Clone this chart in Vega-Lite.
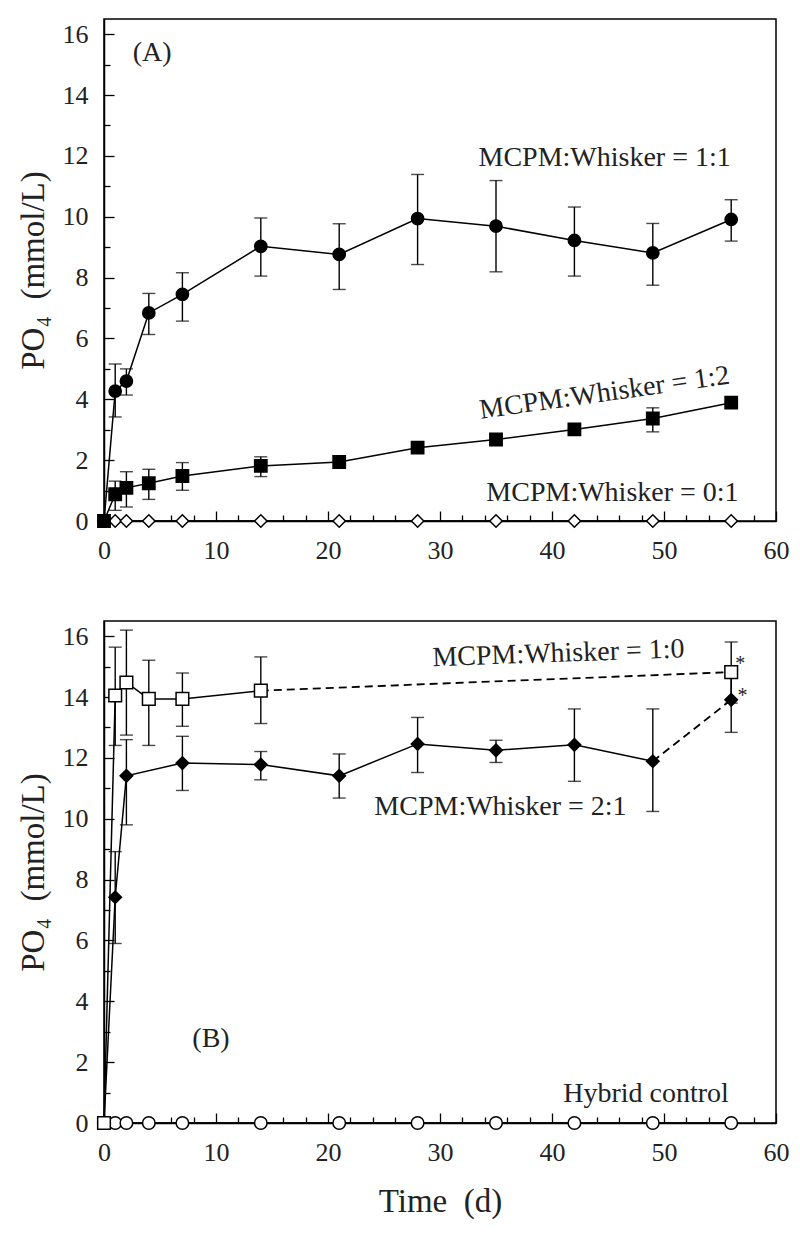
{
  "$schema": "https://vega.github.io/schema/vega-lite/v6.json",
  "padding": {"left": 16, "top": 18, "right": 5, "bottom": 5},
  "config": {
    "font": "Liberation Serif",
    "text": {"font": "Liberation Serif"},
    "view": {"stroke": "black", "strokeWidth": 1.5},
    "axis": {
      "grid": false, "domainColor": "black", "domainWidth": 1.5,
      "tickColor": "black", "tickWidth": 1.3,
      "labelFont": "Liberation Serif", "labelFontSize": 26, "labelColor": "#222",
      "labelFlush": false, "labelOverlap": false,
      "titleFont": "Liberation Serif", "titleFontSize": 33, "titleFontWeight": "normal", "titleColor": "#222"
    },
    "concat": {"spacing": 56}
  },
  "datasets": {
    "a": [
      {"series": "0:1", "t": 0, "v": 0}, {"series": "0:1", "t": 1, "v": 0}, {"series": "0:1", "t": 2, "v": 0},
      {"series": "0:1", "t": 4, "v": 0}, {"series": "0:1", "t": 7, "v": 0}, {"series": "0:1", "t": 14, "v": 0},
      {"series": "0:1", "t": 21, "v": 0}, {"series": "0:1", "t": 28, "v": 0}, {"series": "0:1", "t": 35, "v": 0},
      {"series": "0:1", "t": 42, "v": 0}, {"series": "0:1", "t": 49, "v": 0}, {"series": "0:1", "t": 56, "v": 0},
      {"series": "1:1", "t": 0, "v": 0},
      {"series": "1:1", "t": 1, "v": 4.27, "lo": 3.42, "hi": 5.16},
      {"series": "1:1", "t": 2, "v": 4.6, "lo": 4.14, "hi": 5.0},
      {"series": "1:1", "t": 4, "v": 6.84, "lo": 6.13, "hi": 7.48},
      {"series": "1:1", "t": 7, "v": 7.45, "lo": 6.57, "hi": 8.16},
      {"series": "1:1", "t": 14, "v": 9.03, "lo": 8.05, "hi": 9.96},
      {"series": "1:1", "t": 21, "v": 8.76, "lo": 7.61, "hi": 9.77},
      {"series": "1:1", "t": 28, "v": 9.94, "lo": 8.43, "hi": 11.39},
      {"series": "1:1", "t": 35, "v": 9.69, "lo": 8.19, "hi": 11.19},
      {"series": "1:1", "t": 42, "v": 9.22, "lo": 8.05, "hi": 10.32},
      {"series": "1:1", "t": 49, "v": 8.81, "lo": 7.75, "hi": 9.78},
      {"series": "1:1", "t": 56, "v": 9.91, "lo": 9.2, "hi": 10.56},
      {"series": "1:2", "t": 0, "v": 0},
      {"series": "1:2", "t": 1, "v": 0.88, "lo": 0.35, "hi": 1.31},
      {"series": "1:2", "t": 2, "v": 1.09, "lo": 0.46, "hi": 1.62},
      {"series": "1:2", "t": 4, "v": 1.24, "lo": 0.71, "hi": 1.7},
      {"series": "1:2", "t": 7, "v": 1.48, "lo": 1.01, "hi": 1.92},
      {"series": "1:2", "t": 14, "v": 1.81, "lo": 1.46, "hi": 2.11},
      {"series": "1:2", "t": 21, "v": 1.94},
      {"series": "1:2", "t": 28, "v": 2.41},
      {"series": "1:2", "t": 35, "v": 2.68},
      {"series": "1:2", "t": 42, "v": 3.01},
      {"series": "1:2", "t": 49, "v": 3.37, "lo": 2.93, "hi": 3.72},
      {"series": "1:2", "t": 56, "v": 3.89}
    ],
    "b": [
      {"series": "hybrid", "t": 0, "v": 0}, {"series": "hybrid", "t": 1, "v": 0}, {"series": "hybrid", "t": 2, "v": 0},
      {"series": "hybrid", "t": 4, "v": 0}, {"series": "hybrid", "t": 7, "v": 0}, {"series": "hybrid", "t": 14, "v": 0},
      {"series": "hybrid", "t": 21, "v": 0}, {"series": "hybrid", "t": 28, "v": 0}, {"series": "hybrid", "t": 35, "v": 0},
      {"series": "hybrid", "t": 42, "v": 0}, {"series": "hybrid", "t": 49, "v": 0}, {"series": "hybrid", "t": 56, "v": 0},
      {"series": "2:1", "t": 0, "v": 0},
      {"series": "2:1", "t": 1, "v": 7.42, "lo": 5.9, "hi": 8.92},
      {"series": "2:1", "t": 2, "v": 11.41, "lo": 9.8, "hi": 12.6},
      {"series": "2:1", "t": 7, "v": 11.83, "lo": 10.93, "hi": 12.71},
      {"series": "2:1", "t": 14, "v": 11.78, "lo": 11.28, "hi": 12.21},
      {"series": "2:1", "t": 21, "v": 11.41, "lo": 10.68, "hi": 12.13},
      {"series": "2:1", "t": 28, "v": 12.46, "lo": 11.52, "hi": 13.33},
      {"series": "2:1", "t": 35, "v": 12.25, "lo": 11.85, "hi": 12.58},
      {"series": "2:1", "t": 42, "v": 12.43, "lo": 11.23, "hi": 13.61},
      {"series": "2:1", "t": 49, "v": 11.89, "lo": 10.24, "hi": 13.61},
      {"series": "2:1", "t": 56, "v": 13.91, "lo": 12.84, "hi": 14.95},
      {"series": "1:0", "t": 0, "v": 0},
      {"series": "1:0", "t": 1, "v": 14.05, "lo": 12.41, "hi": 15.64},
      {"series": "1:0", "t": 2, "v": 14.48, "lo": 12.75, "hi": 16.2},
      {"series": "1:0", "t": 4, "v": 13.94, "lo": 12.41, "hi": 15.21},
      {"series": "1:0", "t": 7, "v": 13.94, "lo": 13.04, "hi": 14.79},
      {"series": "1:0", "t": 14, "v": 14.21, "lo": 13.13, "hi": 15.32},
      {"series": "1:0", "t": 56, "v": 14.82, "lo": 13.8, "hi": 15.81}
    ],
    "labA": [
      {"text": "(A)", "t": 4.3, "v": 15.11},
      {"text": "MCPM:Whisker = 1:1", "t": 44.7, "v": 11.66},
      {"text": "MCPM:Whisker = 1:2", "t": 44.8, "v": 3.94},
      {"text": "MCPM:Whisker = 0:1", "t": 45.4, "v": 0.66}
    ],
    "labB": [
      {"text": "MCPM:Whisker = 1:0", "t": 40.6, "v": 15.16},
      {"text": "MCPM:Whisker = 2:1", "t": 35.4, "v": 10.13},
      {"text": "(B)", "t": 9.55, "v": 2.5},
      {"text": "Hybrid control", "t": 48.4, "v": 0.69},
      {"text": "*", "t": 56.8, "v": 14.9},
      {"text": "*", "t": 57.0, "v": 13.85}
    ]
  },
  "vconcat": [
    {
      "width": 672, "height": 502,
      "resolve": {"axis": {"x": "independent", "y": "independent"}},
      "layer": [
        {
          "data": {"name": "a"},
          "transform": [{"filter": "isValid(datum.lo)"}],
          "mark": {"type": "rule", "color": "black", "strokeWidth": 1.4},
          "encoding": {
            "x": {"field": "t", "type": "quantitative", "scale": {"domain": [0, 60], "nice": false, "zero": false},
                  "axis": {"orient": "bottom", "values": [2,4,6,8,12,14,16,18,22,24,26,28,32,34,36,38,42,44,46,48,52,54,56,58], "labels": false, "tickSize": -6, "domain": false, "title": null}},
            "y": {"field": "lo", "type": "quantitative", "scale": {"domain": [0, 16.5], "nice": false},
                  "axis": {"orient": "left", "values": [1,3,5,7,9,11,13,15], "labels": false, "tickSize": -6, "domain": false, "title": null}},
            "y2": {"field": "hi"}
          }
        },
        {
          "data": {"name": "a"},
          "transform": [{"filter": "isValid(datum.lo)"}],
          "mark": {"type": "tick", "orient": "horizontal", "size": 13, "thickness": 1.4, "color": "black"},
          "encoding": {
            "x": {"field": "t", "type": "quantitative", "axis": null},
            "y": {"field": "lo", "type": "quantitative", "axis": null}
          }
        },
        {
          "data": {"name": "a"},
          "transform": [{"filter": "isValid(datum.hi)"}],
          "mark": {"type": "tick", "orient": "horizontal", "size": 13, "thickness": 1.4, "color": "black"},
          "encoding": {
            "x": {"field": "t", "type": "quantitative", "axis": null},
            "y": {"field": "hi", "type": "quantitative", "axis": null}
          }
        },
        {
          "data": {"name": "a"},
          "mark": {"type": "line", "color": "black", "strokeWidth": 1.5},
          "encoding": {
            "x": {"field": "t", "type": "quantitative",
                  "axis": {"orient": "bottom", "values": [0,10,20,30,40,50,60], "tickSize": -10, "labelPadding": 26, "title": null}},
            "y": {"field": "v", "type": "quantitative",
                  "axis": {"orient": "left", "values": [0,2,4,6,8,10,12,14,16], "tickSize": -10, "labelPadding": 26, "title": "PO₄\u00a0 (mmol/L)", "titlePadding": 12}},
            "detail": {"field": "series"}
          }
        },
        {
          "data": {"name": "a"},
          "mark": {"type": "point", "filled": true, "stroke": "black", "strokeWidth": 1.5, "opacity": 1},
          "encoding": {
            "x": {"field": "t", "type": "quantitative", "axis": null},
            "y": {"field": "v", "type": "quantitative", "axis": null},
            "shape": {"field": "series", "scale": {"domain": ["1:1", "1:2", "0:1", "hybrid", "2:1", "1:0"], "range": ["circle", "square", "diamond", "circle", "diamond", "square"]}, "legend": null},
            "fill": {"field": "series", "scale": {"domain": ["1:1", "1:2", "0:1", "hybrid", "2:1", "1:0"], "range": ["black", "black", "white", "white", "black", "white"]}, "legend": null},
            "size": {"field": "series", "type": "nominal", "scale": {"domain": ["1:1", "1:2", "0:1", "hybrid", "2:1", "1:0"], "range": [150, 160, 170, 130, 280, 160]}, "legend": null}
          }
        },
        {
          "data": {"name": "labA"},
          "transform": [{"filter": "datum.text != 'MCPM:Whisker = 1:2'"}],
          "mark": {"type": "text", "font": "Liberation Serif", "fontSize": 28, "align": "center", "baseline": "alphabetic", "color": "#222"},
          "encoding": {
            "x": {"field": "t", "type": "quantitative", "axis": null},
            "y": {"field": "v", "type": "quantitative", "axis": null},
            "text": {"field": "text"}
          }
        },
        {
          "data": {"name": "labA"},
          "transform": [{"filter": "datum.text == 'MCPM:Whisker = 1:2'"}],
          "mark": {"type": "text", "font": "Liberation Serif", "fontSize": 28, "align": "center", "baseline": "alphabetic", "color": "#222", "angle": -8},
          "encoding": {
            "x": {"field": "t", "type": "quantitative", "axis": null},
            "y": {"field": "v", "type": "quantitative", "axis": null},
            "text": {"field": "text"}
          }
        }
      ]
    },
    {
      "width": 672, "height": 502,
      "resolve": {"axis": {"x": "independent", "y": "independent"}},
      "layer": [
        {
          "data": {"name": "b"},
          "transform": [{"filter": "isValid(datum.lo)"}],
          "mark": {"type": "rule", "color": "black", "strokeWidth": 1.4},
          "encoding": {
            "x": {"field": "t", "type": "quantitative", "scale": {"domain": [0, 60], "nice": false, "zero": false},
                  "axis": {"orient": "bottom", "values": [2,4,6,8,12,14,16,18,22,24,26,28,32,34,36,38,42,44,46,48,52,54,56,58], "labels": false, "tickSize": -6, "domain": false, "title": null}},
            "y": {"field": "lo", "type": "quantitative", "scale": {"domain": [0, 16.5], "nice": false},
                  "axis": {"orient": "left", "values": [1,3,5,7,9,11,13,15], "labels": false, "tickSize": -6, "domain": false, "title": null}},
            "y2": {"field": "hi"}
          }
        },
        {
          "data": {"name": "b"},
          "transform": [{"filter": "isValid(datum.lo)"}],
          "mark": {"type": "tick", "orient": "horizontal", "size": 13, "thickness": 1.4, "color": "black"},
          "encoding": {
            "x": {"field": "t", "type": "quantitative", "axis": null},
            "y": {"field": "lo", "type": "quantitative", "axis": null}
          }
        },
        {
          "data": {"name": "b"},
          "transform": [{"filter": "isValid(datum.hi)"}],
          "mark": {"type": "tick", "orient": "horizontal", "size": 13, "thickness": 1.4, "color": "black"},
          "encoding": {
            "x": {"field": "t", "type": "quantitative", "axis": null},
            "y": {"field": "hi", "type": "quantitative", "axis": null}
          }
        },
        {
          "data": {"name": "b"},
          "transform": [{"filter": "datum.series == 'hybrid' || (datum.series == '1:0' && datum.t <= 14) || (datum.series == '2:1' && datum.t <= 49)"}],
          "mark": {"type": "line", "color": "black", "strokeWidth": 1.5},
          "encoding": {
            "x": {"field": "t", "type": "quantitative",
                  "axis": {"orient": "bottom", "values": [0,10,20,30,40,50,60], "tickSize": -10, "labelPadding": 26, "title": "Time\u00a0 (d)", "titlePadding": 20}},
            "y": {"field": "v", "type": "quantitative",
                  "axis": {"orient": "left", "values": [0,2,4,6,8,10,12,14,16], "tickSize": -10, "labelPadding": 26, "title": "PO₄\u00a0 (mmol/L)", "titlePadding": 12}},
            "detail": {"field": "series"}
          }
        },
        {
          "data": {"name": "b"},
          "transform": [{"filter": "(datum.series == '1:0' && datum.t >= 14) || (datum.series == '2:1' && datum.t >= 49)"}],
          "mark": {"type": "line", "color": "black", "strokeWidth": 1.8, "strokeDash": [8, 5]},
          "encoding": {
            "x": {"field": "t", "type": "quantitative", "axis": null},
            "y": {"field": "v", "type": "quantitative", "axis": null},
            "detail": {"field": "series"}
          }
        },
        {
          "data": {"name": "b"},
          "mark": {"type": "point", "filled": true, "stroke": "black", "strokeWidth": 1.5, "opacity": 1},
          "encoding": {
            "x": {"field": "t", "type": "quantitative", "axis": null},
            "y": {"field": "v", "type": "quantitative", "axis": null},
            "shape": {"field": "series", "scale": {"domain": ["1:1", "1:2", "0:1", "hybrid", "2:1", "1:0"], "range": ["circle", "square", "diamond", "circle", "diamond", "square"]}, "legend": null},
            "fill": {"field": "series", "scale": {"domain": ["1:1", "1:2", "0:1", "hybrid", "2:1", "1:0"], "range": ["black", "black", "white", "white", "black", "white"]}, "legend": null},
            "size": {"field": "series", "type": "nominal", "scale": {"domain": ["1:1", "1:2", "0:1", "hybrid", "2:1", "1:0"], "range": [150, 160, 170, 130, 280, 160]}, "legend": null}
          }
        },
        {
          "data": {"name": "labB"},
          "transform": [{"filter": "datum.text != 'MCPM:Whisker = 1:0' && datum.text != '*'"}],
          "mark": {"type": "text", "font": "Liberation Serif", "fontSize": 28, "align": "center", "baseline": "alphabetic", "color": "#222"},
          "encoding": {
            "x": {"field": "t", "type": "quantitative", "axis": null},
            "y": {"field": "v", "type": "quantitative", "axis": null},
            "text": {"field": "text"}
          }
        },
        {
          "data": {"name": "labB"},
          "transform": [{"filter": "datum.text == 'MCPM:Whisker = 1:0'"}],
          "mark": {"type": "text", "font": "Liberation Serif", "fontSize": 28, "align": "center", "baseline": "alphabetic", "color": "#222", "angle": -2},
          "encoding": {
            "x": {"field": "t", "type": "quantitative", "axis": null},
            "y": {"field": "v", "type": "quantitative", "axis": null},
            "text": {"field": "text"}
          }
        },
        {
          "data": {"name": "labB"},
          "transform": [{"filter": "datum.text == '*'"}],
          "mark": {"type": "text", "font": "Liberation Serif", "fontSize": 20, "align": "center", "baseline": "alphabetic", "color": "#222"},
          "encoding": {
            "x": {"field": "t", "type": "quantitative", "axis": null},
            "y": {"field": "v", "type": "quantitative", "axis": null},
            "text": {"field": "text"}
          }
        }
      ]
    }
  ]
}
